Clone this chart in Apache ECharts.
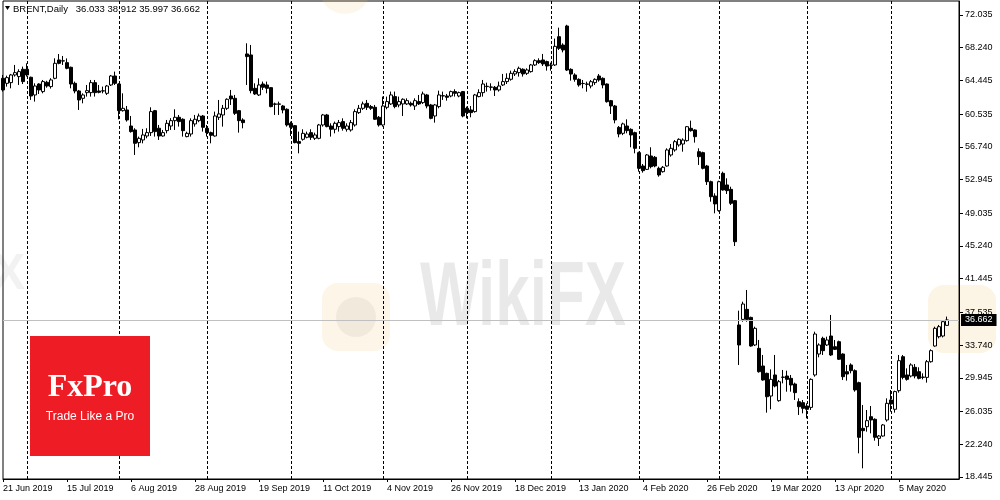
<!DOCTYPE html>
<html><head><meta charset="utf-8">
<script src="https://cdn.jsdelivr.net/npm/echarts@6/dist/echarts.min.js"></script>
<style>html,body{margin:0;padding:0;background:#fff}#c{width:1000px;height:500px}</style>
</head><body><div id="c"></div>
<script>
// ---- data ----
const openP = [
64.69,64.11,64.19,65.08,64.89,65.74,65.74,64.81,62.76,64.03,63.15,64.23,63.73,64.69,66.82,66.70,66.51,65.97,64.11,63.22,
62.37,63.03,63.03,64.19,63.22,63.22,62.95,63.92,64.96,64.03,60.94,61.02,59.16,58.70,57.23,57.54,58.00,58.39,60.94,58.90,
58.00,58.62,59.16,59.78,60.17,59.94,57.93,58.23,59.40,59.78,60.32,58.89,58.39,58.00,60.17,60.44,61.21,62.64,62.37,60.94,
59.86,67.52,67.40,63.53,62.76,64.03,63.92,63.61,61.72,61.68,61.48,61.10,59.47,59.20,57.35,57.62,57.85,58.39,57.73,57.73,
59.28,60.44,59.16,58.78,59.09,59.67,58.78,58.70,59.28,60.71,61.21,61.79,61.41,61.33,60.17,59.28,61.33,61.72,62.57,61.60,
61.72,61.72,61.79,61.48,61.99,61.87,62.76,61.60,60.32,61.41,62.64,62.64,62.64,63.15,62.64,63.15,61.21,61.02,60.83,62.57,
63.03,63.73,63.65,63.65,63.34,63.92,64.31,64.58,65.20,65.35,65.74,65.27,65.47,66.24,66.74,66.82,66.63,66.24,66.24,69.52,
68.55,70.76,65.73,65.08,64.57,64.10,64.03,63.80,64.19,64.96,64.69,64.03,62.10,61.48,59.00,58.31,59.16,58.77,58.39,56.07,
54.52,54.13,55.68,55.53,54.25,53.86,54.52,55.80,56.38,56.96,57.07,57.46,58.89,58.70,56.18,56.07,54.52,52.70,51.04,49.34,
53.67,52.32,51.81,50.50,36.08,36.73,37.89,36.96,33.76,33.37,31.32,30.47,27.84,30.28,27.30,30.00,30.16,29.89,29.23,27.18,
27.07,26.68,26.52,30.28,32.71,34.53,33.76,34.80,33.56,34.14,32.71,30.66,31.44,30.78,29.39,24.09,24.28,25.44,25.14,22.93,
23.20,25.06,27.38,26.30,28.46,32.40,30.28,30.16,31.17,30.66,30.00,30.00,31.82,33.64,34.72,34.80,36.033];
const highP = [
65.08,65.00,65.20,66.24,65.74,66.05,66.43,64.89,64.11,64.11,64.50,64.40,64.70,67.01,67.51,67.28,67.00,66.05,64.31,63.34,
62.95,63.92,64.50,64.50,63.92,63.73,63.92,65.08,65.47,64.11,62.95,61.48,60.32,58.90,57.93,58.82,58.90,61.33,61.02,59.28,
58.70,59.86,60.07,61.10,60.44,60.05,58.50,60.05,60.44,60.60,60.44,59.28,58.51,60.83,62.18,61.60,62.37,63.34,62.76,61.02,
60.05,68.75,68.56,64.11,64.69,64.31,64.31,63.65,61.87,61.99,61.60,61.21,59.67,59.28,58.51,58.78,58.51,58.78,58.39,59.40,
60.56,60.56,59.47,59.67,59.86,60.05,59.47,59.86,61.10,61.60,61.99,62.18,61.60,61.60,60.32,62.57,62.57,63.15,63.15,62.57,
62.37,62.37,61.99,62.37,62.76,63.15,62.88,61.72,61.72,63.26,63.15,62.88,63.26,63.42,63.15,63.22,61.41,61.48,62.88,63.42,
64.50,64.19,64.11,63.80,64.31,65.20,65.27,65.58,65.74,66.05,65.85,65.85,66.36,66.90,67.01,67.52,66.74,66.51,69.30,70.57,
68.75,70.90,65.85,65.27,64.69,64.50,64.30,64.50,64.69,65.19,64.80,64.10,62.18,61.60,59.16,59.55,59.93,58.89,58.50,56.18,
54.75,55.91,56.69,55.68,54.44,54.52,56.57,57.07,57.53,57.73,57.73,59.16,59.78,58.77,56.57,56.18,54.64,52.82,51.35,52.82,
53.86,53.09,52.12,50.58,37.74,38.78,40.14,37.04,35.88,34.34,32.60,30.55,30.93,32.60,29.70,30.86,30.78,30.28,29.39,27.57,
27.38,26.99,29.89,35.30,33.95,34.72,34.72,37.24,34.34,34.26,32.79,31.44,31.63,30.93,29.50,26.80,26.22,26.68,25.25,23.32,
24.59,27.57,28.54,28.46,32.60,32.60,31.05,31.63,31.55,31.17,30.47,32.02,33.25,35.88,36.08,36.65,37.05];
const lowP = [
63.15,63.73,63.53,64.89,63.92,64.03,64.89,62.18,61.99,62.87,62.95,63.60,63.50,64.58,66.32,66.24,65.74,63.53,62.95,61.02,
61.79,62.57,62.57,62.57,62.95,62.95,62.76,63.80,63.92,59.93,60.83,59.67,58.39,55.80,56.69,57.15,57.73,58.00,57.93,57.54,
57.93,58.31,58.70,58.70,59.09,57.93,57.85,57.93,59.09,59.60,58.51,57.93,57.15,57.93,59.86,59.09,61.02,61.60,60.44,58.39,
58.89,63.92,62.95,62.76,62.64,63.34,62.95,61.33,60.44,60.44,60.63,59.09,58.00,57.15,55.99,57.46,57.73,57.54,57.54,57.62,
59.09,59.01,57.93,58.31,58.51,58.62,58.51,58.51,59.09,60.56,61.02,61.02,61.02,59.86,59.09,59.09,61.10,61.60,61.21,61.33,
60.32,61.60,61.41,61.02,61.60,61.72,61.21,59.94,59.55,61.21,62.18,62.10,62.49,62.57,62.49,60.17,60.05,60.17,60.71,62.49,
62.57,63.15,63.26,62.64,63.15,63.80,64.03,64.42,64.96,64.89,64.89,65.08,65.35,66.12,66.36,66.12,65.58,65.58,66.12,67.98,
67.70,65.54,64.42,64.30,63.72,63.53,63.14,63.53,63.92,64.30,63.53,61.87,60.55,59.47,57.85,58.10,58.31,56.69,55.99,53.86,
53.75,54.06,54.25,54.37,53.28,53.75,54.44,55.60,56.18,56.76,56.18,57.34,58.50,57.23,54.64,54.13,52.32,50.38,49.03,49.22,
51.66,51.27,50.00,45.24,31.44,36.46,36.46,33.56,33.64,30.55,29.62,25.91,26.30,28.85,27.18,29.31,28.34,28.34,27.38,25.64,
25.83,25.25,26.22,30.08,32.33,32.60,33.64,32.48,33.17,32.02,29.70,29.62,30.47,28.34,21.19,19.45,23.70,23.51,22.66,22.04,
23.12,24.86,26.02,25.91,28.23,29.77,29.62,30.00,29.89,29.77,29.77,29.39,31.71,33.56,34.53,34.64,35.997];
const closeP = [
63.34,64.77,65.08,65.35,65.47,64.31,65.08,62.64,63.80,63.34,64.31,63.80,64.50,66.43,66.43,66.72,65.85,64.03,63.22,62.18,
62.76,63.26,64.19,63.03,63.07,63.24,63.80,64.96,64.11,60.94,61.21,59.86,58.51,57.15,57.73,58.12,58.39,60.83,58.51,58.00,
58.39,59.47,59.78,60.17,59.67,58.62,58.31,59.78,59.94,60.32,59.01,58.39,58.08,60.32,60.56,61.21,62.26,62.30,60.63,59.78,
59.55,67.21,63.26,62.88,63.92,63.65,63.53,61.41,61.68,61.72,61.02,59.28,59.01,57.23,57.15,58.31,58.23,57.85,58.12,59.28,
60.44,59.09,58.78,59.47,59.55,58.89,59.16,59.55,60.83,61.21,61.72,61.33,61.21,59.94,59.28,61.48,61.99,62.76,61.41,61.99,
62.26,62.10,61.60,62.10,61.72,62.88,61.48,60.05,61.60,62.76,62.68,62.49,63.15,62.95,63.03,60.32,60.71,60.71,62.76,63.03,
64.03,63.77,63.69,63.34,63.80,64.31,64.69,65.27,65.47,65.85,65.20,65.66,66.24,66.74,66.51,66.36,66.12,66.20,68.40,68.17,
67.98,65.65,65.19,64.57,63.92,64.08,64.00,64.30,64.57,64.50,63.92,61.98,61.48,59.86,58.23,59.40,58.62,58.12,56.57,54.25,
53.98,55.80,54.44,54.52,53.48,54.37,56.38,56.57,57.34,57.61,57.53,59.08,58.62,57.92,55.60,54.25,52.70,50.96,50.12,52.70,
51.74,51.66,50.19,45.74,33.76,38.51,36.73,33.64,35.69,30.66,29.70,27.76,29.77,29.00,29.50,30.04,29.77,29.12,28.23,26.60,
26.41,26.30,29.77,35.03,33.76,33.10,34.34,32.60,33.25,32.10,30.08,30.39,30.78,28.54,23.05,23.82,24.98,25.06,23.05,23.20,
24.48,26.99,26.91,28.35,31.94,30.00,29.77,31.44,30.16,29.89,30.04,31.82,33.10,35.69,35.88,36.46,36.662];
const yTickLabels = [72.035, 68.240, 64.445, 60.535, 56.740, 52.945, 49.035, 45.240, 41.445, 37.535, 33.740, 29.945, 26.035, 22.240, 18.445];
const lastPrice = 36.662;
const headerText = 'BRENT,Daily   36.033 38.912 35.997 36.662';
const firstDay = '2019-06-21';
const closedDays = ['2019-12-25', '2020-01-01', '2020-04-10'];
const emptySlots = 3;
const labelEvery = 16;

// ---- trading-day calendar for the category axis ----
const MON = ['Jan','Feb','Mar','Apr','May','Jun','Jul','Aug','Sep','Oct','Nov','Dec'];
const cats = [], monthStart = new Set();
{
  let d = new Date(firstDay + 'T00:00:00Z'); let prevM = null;
  const total = openP.length + emptySlots;
  while (cats.length < total) {
    const wd = d.getUTCDay(); const iso = d.toISOString().slice(0, 10);
    if (wd !== 0 && wd !== 6 && closedDays.indexOf(iso) < 0) {
      if (prevM !== null && d.getUTCMonth() !== prevM) monthStart.add(cats.length);
      prevM = d.getUTCMonth();
      cats.push(d.getUTCDate() + ' ' + MON[d.getUTCMonth()] + ' ' + d.getUTCFullYear());
    }
    d = new Date(d.getTime() + 86400000);
  }
}
const candles = openP.map((o, i) => [o, closeP[i], lowP[i], highP[i]]);
const nData = openP.length;
const FONT = '"Liberation Sans", Arial, sans-serif';
const showLabel = (i) => i % labelEvery === 0 && i < nData;

const chart = echarts.init(document.getElementById('c'), null, {renderer: 'canvas'});
chart.setOption({
  animation: false,
  backgroundColor: '#fff',
  grid: {left: 3, right: 41, top: 1, bottom: 21, show: true, borderColor: '#000', borderWidth: 1, backgroundColor: 'transparent'},
  xAxis: {
    type: 'category', data: cats, boundaryGap: false,
    axisLine: {show: true, lineStyle: {color: '#000', width: 1}},
    axisTick: {show: true, interval: showLabel, length: 3, lineStyle: {color: '#000'}},
    axisLabel: {interval: showLabel, align: 'left', color: '#000', fontSize: 9, fontFamily: FONT, margin: 5},
    splitLine: {show: true, interval: (i) => monthStart.has(i), lineStyle: {color: '#000', type: [3, 2], width: 1}}
  },
  yAxis: {
    type: 'value', position: 'right', min: 18.213, max: 73.659,
    axisLine: {show: true, lineStyle: {color: '#000'}},
    axisTick: {show: true, customValues: yTickLabels, length: 4, lineStyle: {color: '#000'}},
    axisLabel: {customValues: yTickLabels, formatter: (v) => Number(v).toFixed(3), color: '#000', fontSize: 9, fontFamily: FONT, margin: 6},
    splitLine: {show: false}
  },
  graphic: [
    {type: 'text', z: 0, silent: true, scaleY: 1.45, originX: 420, originY: 300, style: {x: 420, y: 300, text: 'WikiFX', font: 'bold 62px "Liberation Sans"', fill: 'rgba(0,0,0,0.085)', verticalAlign: 'middle'}},
    {type: 'rect', z: 0, silent: true, shape: {x: 322, y: 283, width: 68, height: 68, r: 16}, style: {fill: 'rgba(240,196,110,0.16)'}},
    {type: 'circle', z: 0, silent: true, shape: {cx: 356, cy: 317, r: 20}, style: {fill: 'rgba(0,0,0,0.05)'}},
    {type: 'rect', z: 0, silent: true, shape: {x: 928, y: 285, width: 68, height: 68, r: 16}, style: {fill: 'rgba(240,196,110,0.18)'}},
    {type: 'circle', z: 0, silent: true, shape: {cx: 345, cy: -12, r: 26}, style: {fill: 'rgba(240,196,110,0.14)'}},
    {type: 'text', z: 0, silent: true, style: {x: -8, y: 275, text: 'X', font: 'bold 50px "Liberation Sans"', fill: 'rgba(0,0,0,0.05)', verticalAlign: 'middle'}},
    {type: 'polygon', z: 10, silent: true, shape: {points: [[5, 6], [10, 6], [7.5, 10]]}, style: {fill: '#000'}},
    {type: 'text', z: 10, silent: true, style: {x: 13, y: 9, text: headerText, font: '9.5px ' + FONT, fill: '#000', verticalAlign: 'middle'}},
    {type: 'rect', z: 100, silent: true, shape: {x: 30, y: 336, width: 120, height: 120}, style: {fill: '#ee1c24'}},
    {type: 'text', z: 101, silent: true, style: {x: 90, y: 388, text: 'FxPro', font: 'bold 32px "Liberation Serif"', fill: '#fff', align: 'center', verticalAlign: 'middle'}},
    {type: 'text', z: 101, silent: true, style: {x: 90, y: 417, text: 'Trade Like a Pro', font: '12px "Liberation Sans"', fill: '#fff', align: 'center', verticalAlign: 'middle'}}
  ],
  series: [{
    type: 'candlestick', data: candles, barWidth: 3,
    itemStyle: {color: '#fff', color0: '#000', borderColor: '#000', borderColor0: '#000', borderColorDoji: '#000', borderWidth: 1},
    markLine: {
      symbol: 'none', silent: true, animation: false,
      data: [{yAxis: lastPrice}],
      lineStyle: {color: '#c0c0c0', type: 'solid', width: 1},
      label: {show: true, position: 'end', formatter: lastPrice.toFixed(3), color: '#fff', backgroundColor: '#000', padding: [2, 4, 1, 4], fontSize: 9, fontFamily: FONT, distance: 2}
    }
  }]
});
</script></body></html>
